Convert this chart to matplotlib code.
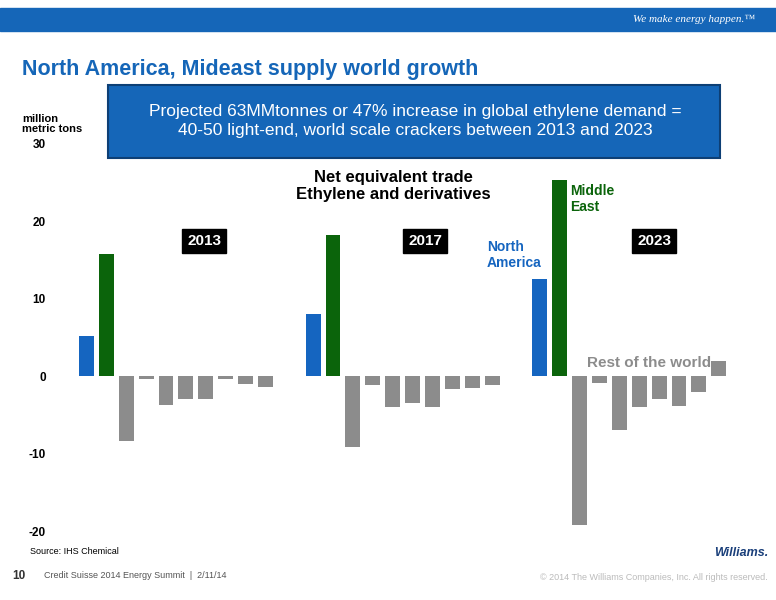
import matplotlib
matplotlib.use("Agg")
import matplotlib.pyplot as plt
from matplotlib.patches import Rectangle

years = ["2013", "2017", "2023"]
north_america = [5.2, 8.1, 12.6]
middle_east = [15.8, 18.2, 25.4]
rest_2013 = [-8.4, -0.4, -3.7, -2.9, -2.9, -0.4, -1.0, -1.4]
rest_2017 = [-9.1, -1.2, -4.0, -3.4, -4.0, -1.6, -1.5, -1.2]
rest_2023 = [-19.2, -0.9, -7.0, -4.0, -2.9, -3.9, -2.0, 2.0]
rest = [rest_2013, rest_2017, rest_2023]
yticks = [-20, -10, 0, 10, 20, 30]

BLUE = "#1565C0"
GREEN = "#0B640B"
GREY = "#8C8C8C"
W, H = 776, 600

fig = plt.figure(figsize=(W/100, H/100), dpi=100)
def fx(x): return x / W
def fy(y): return 1 - y / H

# header bar
fig.patches.append(Rectangle((0, fy(31)), 1, 23/H, transform=fig.transFigure, color="#1566B8", zorder=0))
fig.text(fx(755), fy(19), "We make energy happen.™", color="white", fontsize=8, style="italic",
         family="Liberation Serif", ha="right", va="center")
fig.text(fx(22), fy(70), "North America, Mideast supply world growth", color="#1566B8",
         fontsize=15.5, weight="bold", va="center", family="Liberation Sans")
fig.patches.append(Rectangle((fx(108), fy(158)), fx(612), 73/H, transform=fig.transFigure,
                             facecolor="#1566B8", edgecolor="#0d3f75", lw=1.5, zorder=1))
fig.text(fx(415), fy(121), "Projected 63MMtonnes or 47% increase in global ethylene demand =\n40-50 light-end, world scale crackers between 2013 and 2023",
         color="white", fontsize=12.5, ha="center", va="center", linespacing=1.3, family="Liberation Sans", zorder=2)
fig.text(fx(22), fy(124), "million\nmetric tons", fontsize=8, weight="bold", va="center", linespacing=1.1,
         family="Liberation Sans")

ax = fig.add_axes([fx(62.6), fy(531), fx(680), 387/H])
ax.set_facecolor("none")
step = 11.4
for g in range(3):
    base = g * step
    ax.bar(base, north_america[g], width=0.75, color=BLUE)
    ax.bar(base + 1, middle_east[g], width=0.75, color=GREEN)
    ax.bar([base + 2 + i for i in range(len(rest[g]))], rest[g], width=0.75, color=GREY)
ax.set_xlim(-1.2, 33)
ax.set_ylim(-20, 30)
ax.set_yticks(yticks)
ax.set_yticklabels([str(t) for t in yticks], fontsize=8.5, weight="bold", family="Liberation Sans")
ax.tick_params(axis="y", length=0, pad=12)
ax.set_xticks([])
for s in ax.spines.values():
    s.set_visible(False)

fig.text(fx(393), fy(186), "Net equivalent trade\nEthylene and derivatives", fontsize=12, weight="bold",
         ha="center", va="center", linespacing=1.2, family="Liberation Sans")
for cx, yr in [(204, "2013"), (425, "2017"), (654, "2023")]:
    fig.text(fx(cx), fy(241), yr, color="white", fontsize=11, weight="bold", ha="center", va="center",
             family="Liberation Sans",
             bbox=dict(boxstyle="square,pad=0.3", facecolor="black", edgecolor="black"))
fig.text(fx(487), fy(255), "North\nAmerica", color=BLUE, fontsize=10, weight="bold", va="center",
         linespacing=1.15, family="Liberation Sans")
fig.text(fx(570), fy(199), "Middle\nEast", color=GREEN, fontsize=10, weight="bold", va="center",
         linespacing=1.15, family="Liberation Sans")
fig.text(fx(587), fy(363), "Rest of the world", color=GREY, fontsize=11, weight="bold", va="center",
         family="Liberation Sans")

fig.text(fx(30), fy(551), "Source: IHS Chemical", fontsize=6.5, va="center", family="Liberation Sans")
fig.text(fx(12), fy(576), "10", fontsize=8.5, weight="bold", color="#333333", va="center", family="Liberation Sans")
fig.text(fx(44), fy(576), "Credit Suisse 2014 Energy Summit  |  2/11/14", fontsize=6.5, color="#555555",
         va="center", family="Liberation Sans")
fig.text(fx(768), fy(578), "© 2014 The Williams Companies, Inc. All rights reserved.", fontsize=6.5,
         color="#BBBBBB", ha="right", va="center", family="Liberation Sans")
fig.text(fx(768), fy(553), "Williams.", fontsize=9, weight="bold", style="italic", color="#1A3F7A",
         ha="right", va="center", family="Liberation Sans")

fig.savefig("out.png", dpi=100)
